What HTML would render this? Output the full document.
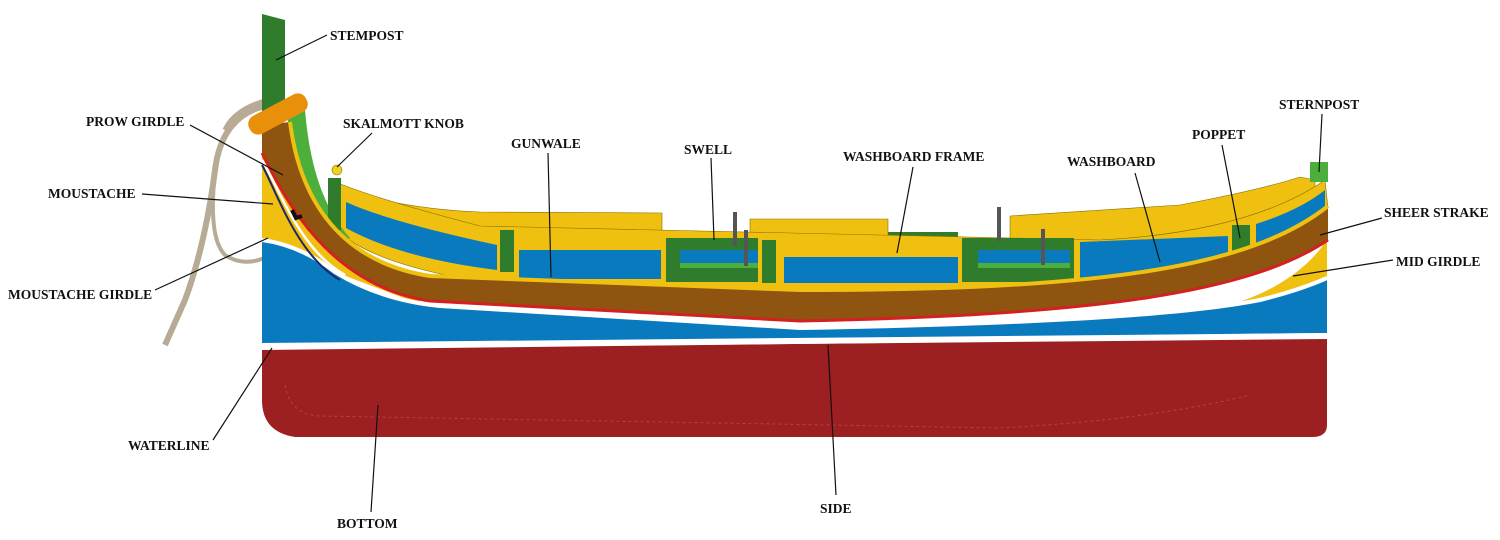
<!DOCTYPE html>
<html><head><meta charset="utf-8"><style>
html,body{margin:0;padding:0;background:#fff;width:1500px;height:540px;overflow:hidden}
svg{display:block}
text{font-family:"Liberation Serif",serif;font-weight:bold;font-size:13.5px;fill:#111}
</style></head><body>
<svg width="1500" height="540" viewBox="0 0 1500 540" xmlns="http://www.w3.org/2000/svg">
<!-- rope -->
<path d="M270,105 C240,110 220,130 215,170 C210,210 200,260 185,300 L165,345" fill="none" stroke="#b8ab95" stroke-width="6"/>
<path d="M215,170 C212,200 210,240 225,255 C240,265 255,262 264,258" fill="none" stroke="#b8ab95" stroke-width="4"/>
<path d="M270,100 C245,105 230,118 225,130" fill="none" stroke="#b8ab95" stroke-width="5"/>
<!-- stempost -->
<polygon points="262,14 285,20 285,110 262,112" fill="#2f7d2c"/>
<!-- bow yellow moustache -->
<path d="M262,125 L300,150 L345,240 L420,290 L420,304 L335,272 L262,242 Z" fill="#f0c010"/>
<!-- stern yellow wedge -->
<path d="M1327,240 L1327,282 L1230,305 C1280,290 1310,265 1327,240 Z" fill="#f0c010"/>
<!-- red bottom -->
<path d="M262,350 L1327,338 L1327,425 Q1327,437 1312,437 L295,437 Q262,432 262,400 Z" fill="#9c1f22"/>
<path d="M285,385 Q290,415 320,416 L1000,428 Q1150,420 1250,395" fill="none" stroke="#b84040" stroke-width="1" stroke-dasharray="3,3"/>
<!-- blue side -->
<path d="M262,240 Q300,245 335,272 Q380,300 440,306 L800,328 Q1150,322 1260,300 Q1300,290 1327,278 L1327,333 L262,345 Z" fill="#0a7abf"/>
<path d="M262,240 Q300,245 335,272 Q380,300 440,306 L800,328 Q1150,322 1260,300 Q1300,290 1327,278" fill="none" stroke="#fff" stroke-width="4"/>
<path d="M262,346 L1327,336" stroke="#fff" stroke-width="6"/>
<!-- back planks (far gunwale) -->
<path d="M360,195 Q420,210 480,212 L662,213 L662,245 L400,240 Z" fill="#f0c010" stroke="#8a7000" stroke-width="0.6"/>
<path d="M750,219 L888,219 L888,245 L750,245 Z" fill="#f0c010" stroke="#8a7000" stroke-width="0.6"/>
<path d="M1010,216 L1180,205 Q1260,190 1300,177 L1315,180 L1315,230 L1010,245 Z" fill="#f0c010" stroke="#8a7000" stroke-width="0.6"/>
<rect x="662" y="234" width="95" height="12" fill="#2f7d2c"/>
<rect x="888" y="232" width="70" height="14" fill="#2f7d2c"/>
<!-- washboard front frame -->
<path d="M338,183 Q380,200 480,226 L1100,240 Q1250,232 1325,180 L1328,208 Q1250,265 1100,284 L800,292 L500,285 Q370,265 338,230 Z" fill="#f0c010" stroke="#8a7000" stroke-width="0.6"/>
<!-- blue panels -->
<path d="M346,202 Q390,222 497,245 L497,270 Q400,258 346,228 Z" fill="#0a7abf"/>
<rect x="500" y="230" width="14" height="42" fill="#2f7d2c"/>
<rect x="519" y="250" width="142" height="29" fill="#0a7abf"/>
<rect x="666" y="238" width="92" height="44" fill="#2f7d2c"/>
<rect x="680" y="250" width="78" height="13" fill="#0a7abf"/>
<rect x="680" y="263" width="78" height="5" fill="#4caf3c"/>
<rect x="762" y="240" width="14" height="43" fill="#2f7d2c"/>
<rect x="784" y="257" width="174" height="26" fill="#0a7abf"/>
<rect x="962" y="238" width="112" height="44" fill="#2f7d2c"/>
<rect x="978" y="250" width="92" height="13" fill="#0a7abf"/>
<rect x="978" y="263" width="92" height="5" fill="#4caf3c"/>
<path d="M1080,242 L1228,236 L1228,270 L1080,278 Z" fill="#0a7abf"/>
<rect x="1232" y="225" width="18" height="40" fill="#2f7d2c"/>
<path d="M1256,224 Q1300,210 1325,190 L1325,222 Q1300,240 1256,258 Z" fill="#0a7abf"/>
<!-- poles -->
<rect x="733" y="212" width="4" height="34" fill="#555"/>
<rect x="744" y="230" width="4" height="36" fill="#555"/>
<rect x="997" y="207" width="4" height="34" fill="#555"/>
<rect x="1041" y="229" width="4" height="36" fill="#555"/>
<!-- green prow piece -->
<path d="M288,110 L305,110 C310,170 325,210 350,238 L338,252 C310,225 296,170 288,125 Z" fill="#4caf3c"/>
<rect x="328" y="178" width="13" height="52" fill="#2f7d2c"/>
<circle cx="337" cy="170" r="5" fill="#f0d020" stroke="#8a7000" stroke-width="0.6"/>
<!-- brown sheer strake -->
<path d="M290,122 C300,200 340,262 430,276 L800,290 C1100,290 1250,268 1328,206 L1328,240 C1250,292 1100,315 800,320 L430,300 C330,285 285,200 262,152 L262,125 Z" fill="#8e5410"/>
<path d="M290,122 C300,200 340,262 430,276 L800,290 C1100,290 1250,268 1328,206" fill="none" stroke="#f0c010" stroke-width="4"/>
<path d="M1328,240 C1250,292 1100,315 800,321 L430,301 C330,286 285,200 262,153" fill="none" stroke="#d42020" stroke-width="3"/>
<path d="M262,160 C280,190 300,250 345,275" fill="none" stroke="#fff" stroke-width="2.5"/>
<path d="M262,165 C278,195 298,256 340,280" fill="none" stroke="#1a2a6a" stroke-width="2"/>
<!-- orange knob -->
<rect x="246" y="104" width="64" height="20" rx="9" fill="#e8900a" transform="rotate(-28 278 114)"/>
<path d="M292,210 l4,8 l6,-2" stroke="#111" stroke-width="4" fill="none"/>
<!-- sternpost -->
<rect x="1310" y="162" width="18" height="20" fill="#4caf3c"/>
<!-- leader lines -->
<g stroke="#111" stroke-width="1.2" fill="none">
<line x1="327" y1="35" x2="276" y2="60"/>
<line x1="190" y1="125" x2="283" y2="175"/>
<line x1="372" y1="133" x2="337" y2="167"/>
<line x1="548" y1="153" x2="551" y2="277"/>
<line x1="711" y1="158" x2="714" y2="240"/>
<line x1="913" y1="167" x2="897" y2="253"/>
<line x1="1135" y1="173" x2="1160" y2="262"/>
<line x1="1222" y1="145" x2="1240" y2="238"/>
<line x1="1322" y1="114" x2="1319" y2="172"/>
<line x1="1382" y1="218" x2="1320" y2="235"/>
<line x1="1393" y1="260" x2="1293" y2="276"/>
<line x1="142" y1="194" x2="273" y2="204"/>
<line x1="155" y1="290" x2="268" y2="238"/>
<line x1="213" y1="440" x2="272" y2="348"/>
<line x1="371" y1="512" x2="378" y2="405"/>
<line x1="836" y1="495" x2="828" y2="345"/>
</g>
<!-- labels -->
<text x="330" y="40">STEMPOST</text>
<text x="86" y="126">PROW GIRDLE</text>
<text x="343" y="128">SKALMOTT KNOB</text>
<text x="511" y="148">GUNWALE</text>
<text x="684" y="154">SWELL</text>
<text x="843" y="161">WASHBOARD FRAME</text>
<text x="1067" y="166">WASHBOARD</text>
<text x="1192" y="139">POPPET</text>
<text x="1279" y="109">STERNPOST</text>
<text x="1384" y="217">SHEER STRAKE</text>
<text x="1396" y="266">MID GIRDLE</text>
<text x="48" y="198">MOUSTACHE</text>
<text x="8" y="299">MOUSTACHE GIRDLE</text>
<text x="128" y="450">WATERLINE</text>
<text x="337" y="528">BOTTOM</text>
<text x="820" y="513">SIDE</text>
</svg>
</body></html>
